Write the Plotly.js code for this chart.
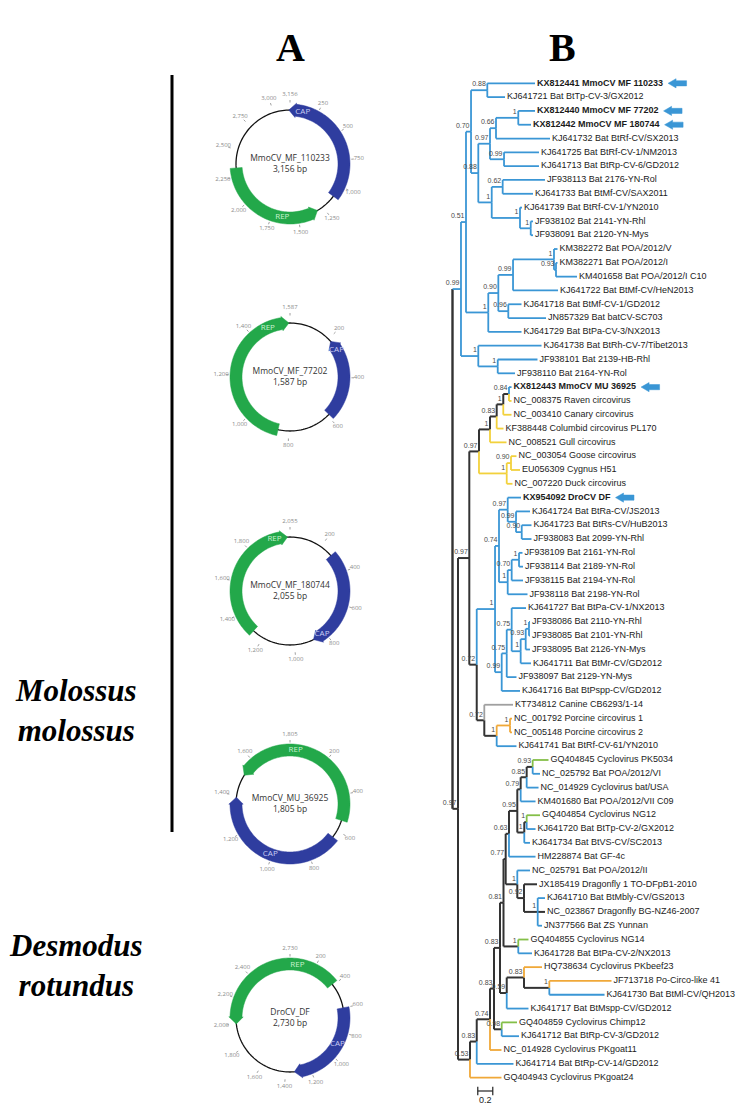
<!DOCTYPE html>
<html><head><meta charset="utf-8">
<script src="https://cdn.plot.ly/plotly-3.0.1.min.js"></script>
<style>html,body{margin:0;padding:0;background:#fff}#chart{width:742px;height:1108px}</style>
</head><body><div id="chart"></div>
<script>
// ================= DATA =================
// --- phylogenetic tree (B) ---
const leafNames = [
 'KX812441 MmoCV MF 110233','KJ641721 Bat BtTp-CV-3/GX2012','KX812440 MmoCV MF 77202','KX812442 MmoCV MF 180744',
 'KJ641732 Bat BtRf-CV/SX2013','KJ641725 Bat BtRf-CV-1/NM2013','KJ641713 Bat BtRp-CV-6/GD2012','JF938113 Bat 2176-YN-Rol',
 'KJ641733 Bat BtMf-CV/SAX2011','KJ641739 Bat BtRf-CV-1/YN2010','JF938102 Bat 2141-YN-Rhl','JF938091 Bat 2120-YN-Mys',
 'KM382272 Bat POA/2012/V','KM382271 Bat POA/2012/I','KM401658 Bat POA/2012/I C10','KJ641722 Bat BtMf-CV/HeN2013',
 'KJ641718 Bat BtMf-CV-1/GD2012','JN857329 Bat batCV-SC703','KJ641729 Bat BtPa-CV-3/NX2013','KJ641738 Bat BtRh-CV-7/Tibet2013',
 'JF938101 Bat 2139-HB-Rhl','JF938110 Bat 2164-YN-Rol','KX812443 MmoCV MU 36925','NC_008375 Raven circovirus',
 'NC_003410 Canary circovirus','KF388448 Columbid circovirus PL170','NC_008521 Gull circovirus','NC_003054 Goose circovirus',
 'EU056309 Cygnus H51','NC_007220 Duck circovirus','KX954092 DroCV DF','KJ641724 Bat BtRa-CV/JS2013',
 'KJ641723 Bat BtRs-CV/HuB2013','JF938083 Bat 2099-YN-Rhl','JF938109 Bat 2161-YN-Rol','JF938114 Bat 2189-YN-Rol',
 'JF938115 Bat 2194-YN-Rol','JF938118 Bat 2198-YN-Rol','KJ641727 Bat BtPa-CV-1/NX2013','JF938086 Bat 2110-YN-Rhl',
 'JF938085 Bat 2101-YN-Rhl','JF938095 Bat 2126-YN-Mys','KJ641711 Bat BtMr-CV/GD2012','JF938097 Bat 2129-YN-Mys',
 'KJ641716 Bat BtPspp-CV/GD2012','KT734812 Canine CB6293/1-14','NC_001792 Porcine circovirus 1','NC_005148 Porcine circovirus 2',
 'KJ641741 Bat BtRf-CV-61/YN2010','GQ404845 Cyclovirus PK5034','NC_025792 Bat POA/2012/VI','NC_014929 Cyclovirus bat/USA',
 'KM401680 Bat POA/2012/VII C09','GQ404854 Cyclovirus NG12','KJ641720 Bat BtTp-CV-2/GX2012','KJ641734 Bat BtVS-CV/SC2013',
 'HM228874 Bat GF-4c','NC_025791 Bat POA/2012/II','JX185419 Dragonfly 1 TO-DFpB1-2010','KJ641710 Bat BtMbly-CV/GS2013',
 'NC_023867 Dragonfly BG-NZ46-2007','JN377566 Bat ZS Yunnan','GQ404855 Cyclovirus NG14','KJ641728 Bat BtPa-CV-2/NX2013',
 'HQ738634 Cyclovirus PKbeef23','JF713718 Po-Circo-like 41','KJ641730 Bat BtMl-CV/QH2013','KJ641717 Bat BtMspp-CV/GD2012',
 'GQ404859 Cyclovirus Chimp12','KJ641712 Bat BtRp-CV-3/GD2012','NC_014928 Cyclovirus PKgoat11','KJ641714 Bat BtRp-CV-14/GD2012',
 'GQ404943 Cyclovirus PKgoat24'];
// distance of each tip from the root (substitutions/site)
const leafDepth = [
 1.100,0.700,1.100,1.047,1.300,1.153,1.153,1.233,1.073,0.927,1.073,1.073,
 1.400,1.400,1.660,1.407,0.920,1.247,0.920,1.187,1.133,0.833,0.787,0.787,
 0.787,0.680,0.720,0.853,0.900,0.800,0.913,1.033,1.053,1.053,0.933,0.940,
 0.940,1.000,0.980,1.033,1.033,1.033,1.047,0.853,0.900,0.807,0.793,0.793,
 0.853,1.280,1.167,1.147,1.107,1.167,1.107,1.033,1.107,1.033,1.127,1.233,
 1.233,1.193,1.013,1.060,1.193,2.120,2.027,1.013,0.860,0.887,0.653,0.813,0.653];
// host group of each tip (sets branch colour)
const leafHost = [
 'bat','bat','bat','bat','bat','bat','bat','bat','bat','bat','bat','bat',
 'bat','bat','bat','bat','bat','bat','bat','bat','bat','bat','bat','bird',
 'bird','bird','bird','bird','bird','bird','bat','bat','bat','bat','bat','bat',
 'bat','bat','bat','bat','bat','bat','bat','bat','bat','canine','livestock','livestock',
 'bat','primate','bat','bat','bat','primate','bat','bat','bat','bat','insect','bat',
 'insect','bat','primate','bat','livestock','livestock','bat','bat','primate','bat','livestock','bat','livestock'];
// new sequences of this study (bold + arrow), 1-based tip numbers
const newTips = [1,3,4,23,31];
// internal nodes: name, children (L# = tip number), depth from root, posterior support
const nodeNames = ['a','b','c','d','e','f','g','h','i','j','k','l','m','n','o','p','q','r','s','t','u',
 'v','w','x','y','z','aa','bb','cc','dd','ee','ff','gg','hh','ii','jj','kk','ll','mm','nn','oo','pp','qq','rr','ss','tt','uu',
 'c1','c2','c3','c4','c5','c6','c7','c8','c9','c10','c11','c12','c13','c14','c15','c16','c17','c18','c19','c20','c21','c22','v2','root'];
const nodeChildren = [
 ['L1','L2'],['L3','L4'],['b','L5'],['L6','L7'],['c','d'],['L8','L9'],['L11','L12'],['L10','g'],['f','h'],['e','i'],['a','j'],
 ['L14','L15'],['L13','l'],['m','L16'],['L17','L18'],['n','o'],['p','L19'],['k','q'],['L21','L22'],['L20','s'],['r','t'],
 ['L23','L24'],['v','L25'],['w','L26'],['x','L27'],['L28','L29'],['z','L30'],['y','aa'],
 ['L33','L34'],['L32','cc'],['L31','dd'],['L35','L36'],['ff','L37'],['gg','L38'],['ee','hh'],
 ['L40','L41'],['jj','L42'],['kk','L43'],['L39','ll'],['mm','L44'],['nn','L45'],['ii','oo'],
 ['L47','L48'],['qq','L49'],['L46','rr'],['pp','ss'],['bb','tt'],
 ['L50','L51'],['c1','L52'],['c2','L53'],['L54','L55'],['c4','L56'],['c3','c5'],['c6','L57'],
 ['L60','L61','L62'],['L59','c8'],['L58','c9'],['c7','c10'],['L63','L64'],['c11','c12'],
 ['L66','L67'],['L65','c14'],['c15','L68'],['c13','c16'],['L69','L70'],['c17','c18'],['c19','L71'],['c20','L72'],['c21','L73'],
 ['uu','c22'],['u','v2']];
const nodeDepth = [0.464,0.877,0.580,0.687,0.500,0.669,1.043,0.900,0.523,0.344,0.247,
 1.380,1.353,0.807,0.744,0.611,0.477,0.180,0.603,0.344,0.113,
 0.753,0.677,0.589,0.500,0.780,0.723,0.353,
 0.923,0.847,0.736,0.887,0.789,0.736,0.620,
 1.020,0.976,0.909,0.789,0.723,0.656,0.567,
 0.767,0.589,0.424,0.323,0.224,
 1.069,0.989,0.909,0.989,0.957,0.864,0.753,
 1.136,0.953,0.864,0.709,0.877,0.680,
 1.291,0.953,0.723,0.633,0.656,0.553,0.500,0.323,0.233,
 0.073,0.000];
const nodeSupport = ['0.88','1','0.66','0.99','0.97','0.62','1','1','1','0.88','0.70',
 '0.93','1','0.99','0.96','0.90','1','0.51','1','1','0.99',
 '0.84','1','0.83','1','0.90','1','0.97',
 '0.90','0.99','0.97','1','0.70','1','0.74',
 '1','0.93','1','0.75','0.75','0.99','1',
 '1','1','0.72','0.72','0.97',
 '0.93','0.85','0.79','1','1','0.95','0.63',
 '1','0.92','1','0.77','1','0.81',
 '1','0.83','0.59','0.83','0.98','0.83','0.74','0.83','0.53',
 '0.97',''];
const scaleBarLength = 0.2;

// --- genome maps (A) ---
const genomeNames = ['MmoCV_MF_110233','MmoCV_MF_77202','MmoCV_MF_180744','MmoCV_MU_36925','DroCV_DF'];
const genomeLengths = [3156,1587,2055,1805,2730];
const genomeTickStep = [250,200,200,200,200];
const geneGenome = [0,0,1,1,2,2,3,3,4,4];
const geneName   = ['CAP','REP','REP','CAP','CAP','REP','REP','CAP','REP','CAP'];
const geneFrom   = [3145,1310, 850,215, 280,1270, 1515,640, 2000,600];   // clockwise start (bp)
const geneTo     = [1110,2330,1582,590, 880,2040,  540,1390, 390,1330];  // clockwise end (bp)
const geneStrand = [-1,-1, 1,-1, 1,1, -1,1, -1,1];
const geneLabelAt= [120,1650,1480,262,820,1960,30,1010,60,900];

// species labels
const hostSpecies = [['Molossus','molossus'],['Desmodus','rotundus']];
const panelLetters = ['A','B'];

// ================= STYLE / LAYOUT CONSTANTS =================
const W = 742, H = 1108;
const ROOT_PX = 452.5, UNIT_PX = 75, TIP0_PX = 83.3, TIP_STEP = 13.81;
const COL = {bat:'#3a96d5', bird:'#f2d13c', livestock:'#f0a838', canine:'#a0a0a0', primate:'#84bf48', insect:'#333333', mixed:'#333333'};
const LABEL_FONT = 'Arial, "Liberation Sans", sans-serif';
const SERIF = '"Liberation Serif", "Times New Roman", serif';
const CIRCLE_CX = 290, CIRCLE_CY = [164, 377, 591, 804, 1018], CIRCLE_BOX = 80;
const R_BACK = 54, R_IN = 48, R_OUT = 60, R_MID = 54;
const GENE_COL = {CAP:'#2f3d9f', REP:'#23a84a'};
const GENE_TXT = {CAP:'#c9cdf3', REP:'#c9f1cf'};
const MIN_TICK_GAP_DEG = 17.5;

// ================= TREE BUILD =================
const pxToDepth = p => (p - ROOT_PX) / UNIT_PX;
const pyToTip = p => 1 + (p - TIP0_PX) / TIP_STEP;
const N = {};
leafNames.forEach((nm, i) => { N['L' + (i + 1)] = {id:'L'+(i+1), leaf:true, y:i + 1, d:leafDepth[i], col:COL[leafHost[i]], idx:i}; });
nodeNames.forEach((nm, i) => { N[nm] = {id:nm, leaf:false, kids:nodeChildren[i], d:nodeDepth[i], sup:nodeSupport[i]}; });
function resolve(id) {
  const n = N[id];
  if (n.leaf) return n;
  const ks = n.kids.map(resolve);
  ks.forEach(k => k.parent = n);
  const ys = ks.map(k => k.y);
  n.y = (Math.min(...ys) + Math.max(...ys)) / 2;
  const cols = [...new Set(ks.map(k => k.col))];
  n.col = cols.length === 1 ? cols[0] : COL.mixed;
  return n;
}
resolve('root');

const segs = {};
function addSeg(col, xs, ys, w) {
  const key = col + '|' + w;
  if (!segs[key]) segs[key] = {col, w, x:[], y:[]};
  segs[key].x.push(...xs, null); segs[key].y.push(...ys, null);
}
Object.values(N).forEach(n => {
  if (!n.parent) return;
  const p = n.parent, isRoot = p.id === 'root';
  const w = n.col === COL.mixed ? 2 : 1.8;
  addSeg(isRoot ? COL.mixed : n.col, [p.d, p.d], [p.y, n.y], isRoot ? 2.4 : w);
  addSeg(n.col, [p.d, n.d], [n.y, n.y], w);
});

const traces = [];
Object.values(segs).sort((a, b) => (a.col === COL.mixed ? -1 : 1)).forEach(s => {
  traces.push({type:'scatter', mode:'lines', x:s.x, y:s.y, xaxis:'x2', yaxis:'y2',
    line:{color:s.col, width:s.w}, hoverinfo:'skip', showlegend:false});
});

// tip labels
const ctx = document.createElement('canvas').getContext('2d');
const tipX = [], tipY = [], tipT = [];
leafNames.forEach((nm, i) => {
  const isNew = newTips.includes(i + 1);
  tipX.push(leafDepth[i] + 2 / UNIT_PX); tipY.push(i + 1);
  tipT.push(isNew ? '<b>' + nm + '</b>' : nm);
});
traces.push({type:'scatter', mode:'text', x:tipX, y:tipY, text:tipT, textposition:'middle right',
  textfont:{family:LABEL_FONT, size:9, color:'#1b1b1b'}, xaxis:'x2', yaxis:'y2', hoverinfo:'skip', showlegend:false});

// support values
const supX = [], supY = [], supT = [];
Object.values(N).forEach(n => { if (!n.leaf && n.sup) { supX.push(n.d - 1.5 / UNIT_PX); supY.push(n.y - 2 / TIP_STEP); supT.push(n.sup); } });
traces.push({type:'scatter', mode:'text', x:supX, y:supY, text:supT, textposition:'top left',
  textfont:{family:LABEL_FONT, size:7, color:'#4a4a4a'}, xaxis:'x2', yaxis:'y2', hoverinfo:'skip', showlegend:false});

// arrows next to the new sequences
const arrX = [], arrY = [];
newTips.forEach(t => {
  ctx.font = 'bold 9px Arial, "Liberation Sans", sans-serif';
  const wpx = ctx.measureText(leafNames[t - 1]).width;
  const x0 = leafDepth[t - 1] + (2 + wpx + 5) / UNIT_PX, y0 = t;
  const shape = [[0,0],[8,-4.6],[8,-2.6],[18.5,-2.6],[18.5,2.6],[8,2.6],[8,4.6],[0,0]];
  shape.forEach(([dx, dy]) => { arrX.push(x0 + dx / UNIT_PX); arrY.push(y0 + dy / TIP_STEP); });
  arrX.push(null); arrY.push(null);
});
traces.push({type:'scatter', mode:'lines', x:arrX, y:arrY, fill:'toself', fillcolor:'#3a96d5',
  line:{color:'#3a96d5', width:0.5}, xaxis:'x2', yaxis:'y2', hoverinfo:'skip', showlegend:false});

// scale bar
const sbX = 0.337, sbY = pyToTip(1091);
traces.push({type:'scatter', mode:'lines+markers', x:[sbX, sbX + scaleBarLength], y:[sbY, sbY],
  line:{color:'#222', width:1.2}, marker:{symbol:'line-ns-open', size:6, line:{color:'#222', width:1.2}},
  xaxis:'x2', yaxis:'y2', hoverinfo:'skip', showlegend:false});
traces.push({type:'scatter', mode:'text', x:[sbX + scaleBarLength / 2], y:[pyToTip(1101)], text:[String(scaleBarLength)],
  textposition:'middle center', textfont:{family:LABEL_FONT, size:9, color:'#222'}, xaxis:'x2', yaxis:'y2', hoverinfo:'skip', showlegend:false});

// ================= GENOME MAPS =================
const layoutPolar = {};
const fmt = v => v.toLocaleString('en-US');
genomeNames.forEach((gname, gi) => {
  const L = genomeLengths[gi], sp = gi === 0 ? 'polar' : 'polar' + (gi + 1);
  const cy = CIRCLE_CY[gi];
  layoutPolar[sp] = {
    domain:{x:[(CIRCLE_CX - CIRCLE_BOX) / W, (CIRCLE_CX + CIRCLE_BOX) / W], y:[1 - (cy + CIRCLE_BOX) / H, 1 - (cy - CIRCLE_BOX) / H]},
    bgcolor:'rgba(0,0,0,0)',
    radialaxis:{visible:false, range:[0, CIRCLE_BOX]},
    angularaxis:{visible:false, rotation:90, direction:'clockwise', thetaunit:'degrees'}
  };
  const deg = p => p / L * 360;
  // backbone
  const bt = [], br = [];
  for (let a = 0; a <= 360; a += 2) { bt.push(a); br.push(R_BACK); }
  traces.push({type:'scatterpolar', subplot:sp, mode:'lines', theta:bt, r:br, line:{color:'#111', width:1.3}, hoverinfo:'skip', showlegend:false});
  // genes
  geneGenome.forEach((g, k) => {
    if (g !== gi) return;
    let a = deg(geneFrom[k]), b = deg(geneTo[k]);
    if (b < a) b += 360;
    const h = 7 / R_MID * 180 / Math.PI;
    const th = [], rr = [];
    const arc = (t0, t1, r) => { const n = Math.max(2, Math.ceil(Math.abs(t1 - t0) / 2)); for (let s = 0; s <= n; s++) { th.push(t0 + (t1 - t0) * s / n); rr.push(r); } };
    if (geneStrand[k] > 0) {
      arc(a, b - h, R_OUT); th.push(b - h, b, b - h); rr.push(R_OUT + 1.2, R_MID, R_IN - 1.2); arc(b - h, a, R_IN);
    } else {
      th.push(a, a + h); rr.push(R_MID, R_OUT + 1.2); arc(a + h, b, R_OUT); arc(b, a + h, R_IN); th.push(a + h, a); rr.push(R_IN - 1.2, R_MID);
    }
    th.push(th[0]); rr.push(rr[0]);
    traces.push({type:'scatterpolar', subplot:sp, mode:'lines', theta:th, r:rr, fill:'toself', fillcolor:GENE_COL[geneName[k]],
      line:{color:GENE_COL[geneName[k]], width:0.5}, hoverinfo:'skip', showlegend:false});
    traces.push({type:'scatterpolar', subplot:sp, mode:'text', theta:[deg(geneLabelAt[k])], r:[R_MID], text:[geneName[k]],
      textfont:{family:'"Open Sans", sans-serif', size:8, color:GENE_TXT[geneName[k]]}, hoverinfo:'skip', showlegend:false});
  });
  // ticks (the closing label shows the genome length; crowded ones are dropped)
  const step = genomeTickStep[gi], tt = [], tr = [], lt = [], lr = [], ltx = [];
  const pos = [0]; for (let p = step; p < L; p += step) if (360 - deg(p) >= MIN_TICK_GAP_DEG) pos.push(p);
  pos.forEach(p => {
    tt.push(deg(p), deg(p), null); tr.push(R_OUT + 1.5, R_OUT + 4, null);
    lt.push(deg(p)); lr.push(p === 0 ? 70 : 69); ltx.push(fmt(p === 0 ? L : p));
  });
  traces.push({type:'scatterpolar', subplot:sp, mode:'lines', theta:tt, r:tr, line:{color:'#888', width:0.8}, hoverinfo:'skip', showlegend:false});
  traces.push({type:'scatterpolar', subplot:sp, mode:'text', theta:lt, r:lr, text:ltx,
    textfont:{family:'"Open Sans", sans-serif', size:6, color:'#8a8a8a'}, hoverinfo:'skip', showlegend:false});
  // centre label
  traces.push({type:'scatterpolar', subplot:sp, mode:'text', theta:[0], r:[0], text:[gname + '<br>' + fmt(L) + ' bp'],
    textfont:{family:'"Open Sans", sans-serif', size:8.5, color:'#333'}, hoverinfo:'skip', showlegend:false});
});

// ================= DECORATION (pixel frame) =================
const annotations = [
  {xref:'x', yref:'y', x:290, y:47, text:'<b>' + panelLetters[0] + '</b>', showarrow:false, font:{family:SERIF, size:40, color:'#000'}},
  {xref:'x', yref:'y', x:562, y:47, text:'<b>' + panelLetters[1] + '</b>', showarrow:false, font:{family:SERIF, size:40, color:'#000'}},
  {xref:'x', yref:'y', x:76, y:710, text:'<b><i>' + hostSpecies[0].join('<br>') + '</i></b>', showarrow:false, font:{family:SERIF, size:31, color:'#000'}},
  {xref:'x', yref:'y', x:76, y:965, text:'<b><i>' + hostSpecies[1].join('<br>') + '</i></b>', showarrow:false, font:{family:SERIF, size:31, color:'#000'}}
];
const shapes = [{type:'line', xref:'x', yref:'y', x0:172, x1:172, y0:75, y1:832, line:{color:'#000', width:3}}];

const layout = Object.assign({
  width:W, height:H, margin:{l:0, r:0, t:0, b:0}, paper_bgcolor:'#fff', plot_bgcolor:'rgba(0,0,0,0)', showlegend:false,
  xaxis:{domain:[0,1], range:[0, W], visible:false, fixedrange:true},
  yaxis:{domain:[0,1], range:[H, 0], visible:false, fixedrange:true},
  xaxis2:{domain:[0,1], range:[pxToDepth(0), pxToDepth(W)], visible:false, anchor:'y2', fixedrange:true},
  yaxis2:{domain:[0,1], range:[pyToTip(H), pyToTip(0)], visible:false, anchor:'x2', fixedrange:true},
  annotations, shapes
}, layoutPolar);

// invisible point keeps the pixel frame active
traces.unshift({type:'scatter', mode:'markers', x:[0], y:[0], marker:{opacity:0}, hoverinfo:'skip', showlegend:false});

Plotly.newPlot('chart', traces, layout, {staticPlot:true, displayModeBar:false});
</script>
</body></html>
